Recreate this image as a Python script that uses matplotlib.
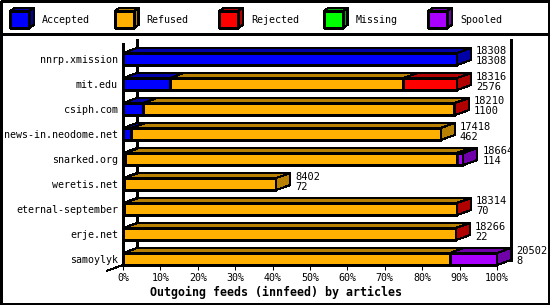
import matplotlib
matplotlib.use('Agg')
import matplotlib.pyplot as plt
from matplotlib.patches import Polygon, Rectangle

# ---------------- data ----------------
hosts = ['nnrp.xmission', 'mit.edu', 'csiph.com', 'news-in.neodome.net',
         'snarked.org', 'weretis.net', 'eternal-september', 'erje.net', 'samoylyk']
offered  = [18308, 18316, 18210, 17418, 18664, 8402, 18314, 18266, 20502]
accepted = [18308, 2576, 1100, 462, 114, 72, 70, 22, 8]
refused  = [0, 12790, 17070, 16956, 18180, 8330, 18219, 18214, 17904]
rejected = [0, 2950, 40, 0, 0, 0, 25, 30, 0]
missing  = [0, 0, 0, 0, 0, 0, 0, 0, 0]
spooled  = [0, 0, 0, 0, 370, 0, 0, 0, 2590]

series_names = ['Accepted', 'Refused', 'Rejected', 'Missing', 'Spooled']
front_colors = ['#0000ff', '#ffb000', '#ff0000', '#00ff00', '#aa00ff']
dark_colors  = ['#0000a8', '#b88000', '#b00000', '#00a800', '#7000aa']
xticks = list(range(0, 101, 10))
xticklabels = ['%d%%' % t for t in xticks]
xlabel = 'Outgoing feeds (innfeed) by articles'

# ---------------- layout ----------------
W, H = 550, 305
plt.rcParams['font.family'] = ['DejaVu Sans Mono']
fig = plt.figure(figsize=(W / 100, H / 100), dpi=100)
fig.patch.set_facecolor('white')

ax_left, ax_right, ax_top, ax_bottom = 123, 497, 40, 265
pitch = 25
first_center = 59
FS = 7.2
LW = 0.75

# background/frame axes in pixel coordinates
lg = fig.add_axes([0, 0, 1, 1], zorder=0)
lg.set_xlim(0, W)
lg.set_ylim(H, 0)
lg.axis('off')
lg.add_patch(Rectangle((0.5, 0.5), W - 2, H - 2, fill=False, ec='black',
                       lw=LW, antialiased=False))
lg.plot([0.5, W - 1.5], [33.5, 33.5], color='black', lw=LW, antialiased=False)

# legend with 3D cubes
for k, name in enumerate(series_names):
    x0 = 10 + 104.5 * k
    y0, y1 = 11, 28
    cw, dx, dy = 19, 5, 3
    lg.add_patch(Polygon([(x0, y0), (x0 + cw, y0), (x0 + cw + dx, y0 - dy), (x0 + dx, y0 - dy)],
                         closed=True, fc=dark_colors[k], ec='black', lw=LW, antialiased=False))
    lg.add_patch(Polygon([(x0 + cw, y0), (x0 + cw + dx, y0 - dy), (x0 + cw + dx, y1 - dy), (x0 + cw, y1)],
                         closed=True, fc=dark_colors[k], ec='black', lw=LW, antialiased=False))
    lg.add_patch(Rectangle((x0, y0), cw, y1 - y0, fc=front_colors[k], ec='black',
                           lw=LW, antialiased=False))
    lg.text(x0 + 32, 20, name, fontsize=FS, ha='left', va='center')

# main data axes
ax = fig.add_axes([ax_left / W, 1 - ax_bottom / H, (ax_right - ax_left) / W,
                   (ax_bottom - ax_top) / H], zorder=1)
ax.patch.set_visible(False)
ax.set_xlim(0, 100)
y_bot = (ax_bottom - first_center) / pitch
y_top = (ax_top - first_center) / pitch
ax.set_ylim(y_bot, y_top)

ddx = 14 / (ax_right - ax_left) * 100
ddy = 5 / pitch
hh = 0.24

# walls
ax.plot([0, 0], [(44 - first_center) / pitch, y_bot], color='black', lw=LW,
        antialiased=False, clip_on=False, zorder=1)
ax.plot([ddx, ddx], [y_top, y_bot - ddy], color='black', lw=LW,
        antialiased=False, clip_on=False, zorder=1)
ax.plot([100 + ddx, 100 + ddx], [y_top, y_bot - ddy], color='black', lw=LW,
        antialiased=False, clip_on=False, zorder=1)
ax.plot([100, 100 + ddx], [y_bot, y_bot - ddy], color='black', lw=LW,
        antialiased=False, clip_on=False, zorder=1)
ax.plot([ddx, -1.15 * ddx], [y_bot - ddy, y_bot + 1.15 * ddy], color='black', lw=LW,
        antialiased=False, clip_on=False, zorder=1)

series = [accepted, refused, rejected, missing, spooled]
total_max = max(offered)
for i in range(len(hosts)):
    left = 0.0
    last_k = 0
    for k, vals in enumerate(series):
        v = vals[i]
        if v <= 0:
            continue
        w = v / total_max * 100
        x0, x1 = left, left + w
        ax.add_patch(Polygon([(x0, i - hh), (x1, i - hh), (x1 + ddx, i - hh - ddy),
                              (x0 + ddx, i - hh - ddy)], closed=True,
                             fc=dark_colors[k], ec='black', lw=LW,
                             antialiased=False, clip_on=False, zorder=3))
        ax.add_patch(Rectangle((x0, i - hh), w, 2 * hh, fc=front_colors[k],
                               ec='black', lw=LW, antialiased=False,
                               clip_on=False, zorder=3))
        left = x1
        last_k = k
    ax.add_patch(Polygon([(left, i - hh), (left + ddx, i - hh - ddy),
                          (left + ddx, i + hh - ddy), (left, i + hh)], closed=True,
                         fc=dark_colors[last_k], ec='black', lw=LW,
                         antialiased=False, clip_on=False, zorder=3))
    ax.annotate('%d\n%d' % (offered[i], accepted[i]), xy=(left, i),
                xytext=(19 * 0.72, 2.5 * 0.72), textcoords='offset points',
                ha='left', va='center', fontsize=FS + 0.3, linespacing=1.0,
                annotation_clip=False, zorder=4)

for s in ['left', 'right', 'top']:
    ax.spines[s].set_visible(False)
ax.spines['bottom'].set_linewidth(LW)
ax.spines['bottom'].set_zorder(2)

ax.set_xticks(xticks)
ax.set_xticklabels(xticklabels)
ax.set_yticks(range(len(hosts)))
ax.set_yticklabels(hosts)
ax.tick_params(axis='x', direction='out', length=3.6, width=LW, pad=2.5, labelsize=FS)
ax.tick_params(axis='y', length=0, pad=3.6, labelsize=FS)

fig.text(276 / W, 1 - 292 / H, xlabel, fontsize=8.4, fontweight='bold',
         ha='center', va='center')

fig.savefig('out.png', dpi=100)
